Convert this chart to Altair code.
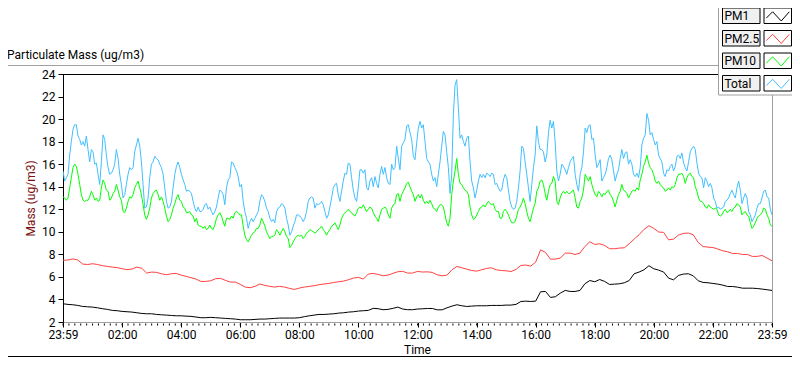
import altair as alt
import numpy as np
import pandas as pd

# ---------------- data ----------------
series_names = ["PM1", "PM2.5", "PM10", "Total"]
series_colors = ["#000000", "#ff4040", "#00ff00", "#40c0ff"]

# PM1 and PM2.5: one reading every 10 minutes, 23:59 -> 23:59
pm1 = [
    3.62, 3.56, 3.53, 3.47, 3.38, 3.35, 3.32, 3.26, 3.18, 3.12,
    3.03, 3.00, 2.94, 2.91, 2.88, 2.82, 2.76, 2.73, 2.73, 2.67,
    2.64, 2.61, 2.58, 2.55, 2.55, 2.52, 2.50, 2.44, 2.38, 2.38,
    2.41, 2.38, 2.35, 2.32, 2.29, 2.26, 2.20, 2.20, 2.20, 2.23,
    2.26, 2.26, 2.29, 2.32, 2.35, 2.35, 2.35, 2.35, 2.38, 2.47,
    2.55, 2.61, 2.67, 2.67, 2.70, 2.73, 2.79, 2.82, 2.88, 2.91,
    2.97, 3.00, 3.03, 3.21, 3.18, 3.09, 3.12, 3.21, 3.32, 3.15,
    3.09, 3.09, 3.15, 3.17, 3.20, 3.20, 3.08, 3.08, 3.26, 3.41,
    3.53, 3.44, 3.38, 3.41, 3.44, 3.44, 3.44, 3.47, 3.47, 3.47,
    3.50, 3.50, 3.56, 3.82, 3.85, 3.82, 3.85, 4.68, 4.71, 4.18,
    4.24, 4.56, 4.80, 4.71, 4.71, 4.80, 5.39, 5.68, 5.57, 5.77,
    5.60, 5.33, 5.36, 5.39, 5.48, 5.68, 6.28, 6.43, 6.63, 6.99,
    6.72, 6.60, 6.43, 5.89, 5.74, 6.13, 6.25, 6.28, 6.10, 5.66,
    5.51, 5.48, 5.42, 5.36, 5.27, 5.15, 5.15, 5.09, 5.00, 5.00,
    5.00, 4.97, 4.92, 4.86, 4.80,
]
pm25 = [
    7.47, 7.50, 7.60, 7.50, 7.14, 7.10, 7.17, 7.10, 7.00, 6.93,
    6.87, 6.82, 6.73, 6.64, 6.70, 6.87, 6.76, 6.34, 6.43, 6.40,
    6.28, 6.19, 6.28, 6.31, 6.16, 6.05, 5.93, 5.81, 5.60, 5.60,
    5.66, 5.84, 5.87, 5.69, 5.54, 5.54, 5.34, 5.10, 5.04, 5.16,
    5.37, 5.25, 5.16, 5.10, 5.16, 5.10, 4.98, 4.89, 5.01, 5.10,
    5.16, 5.22, 5.31, 5.37, 5.42, 5.51, 5.57, 5.63, 5.75, 5.90,
    5.96, 5.81, 6.25, 6.31, 6.22, 6.10, 6.16, 6.31, 6.46, 6.49,
    6.34, 6.34, 6.49, 6.43, 6.45, 6.40, 6.19, 6.10, 6.16, 6.63,
    6.93, 6.81, 6.69, 6.57, 6.51, 6.63, 6.75, 6.81, 6.63, 6.57,
    6.54, 6.48, 6.66, 7.02, 7.05, 6.96, 7.31, 8.40, 8.17, 7.58,
    7.58, 7.67, 8.11, 8.11, 7.99, 8.11, 8.70, 9.12, 8.88, 8.94,
    8.79, 8.50, 8.50, 8.56, 8.58, 8.94, 9.35, 9.74, 10.21, 10.54,
    10.30, 9.98, 9.95, 9.29, 9.35, 9.71, 9.86, 9.89, 9.74, 9.06,
    8.70, 8.64, 8.61, 8.47, 8.32, 8.23, 8.08, 8.08, 7.99, 7.99,
    7.82, 7.82, 7.90, 7.67, 7.43,
]
# PM10 and Total: dense readings, evenly spaced over the 24 hours
pm10 = [
    13.1, 13.0, 12.8, 13.0, 13.9, 14.8, 15.7, 16.0, 15.8, 15.1,
    14.2, 13.3, 12.8, 12.7, 12.8, 12.8, 13.1, 13.6, 13.3, 12.8,
    13.0, 12.7, 12.8, 13.9, 14.6, 14.3, 13.7, 13.6, 12.8, 13.0,
    13.4, 13.6, 14.2, 13.7, 13.1, 12.8, 11.8, 11.7, 12.1, 12.7,
    13.1, 13.0, 13.3, 13.9, 14.2, 14.5, 13.9, 13.3, 12.4, 11.5,
    11.1, 11.5, 12.1, 13.0, 13.4, 13.6, 13.7, 13.3, 12.8, 13.1,
    12.7, 12.1, 11.4, 10.9, 11.1, 11.5, 12.1, 12.5, 13.0, 13.3,
    12.8, 12.7, 12.2, 12.1, 11.7, 11.7, 11.8, 11.5, 11.4, 10.9,
    11.2, 10.6, 10.5, 10.5, 10.3, 10.5, 10.2, 10.3, 10.6, 10.3,
    10.2, 10.6, 11.2, 11.5, 11.7, 11.4, 10.9, 10.5, 11.2, 11.2,
    11.1, 11.4, 11.2, 11.7, 11.8, 11.7, 11.5,
    11.5, 10.5, 9.7, 9.3, 9.1, 9.4, 9.7, 9.9, 10.0, 10.3,
    10.3, 10.6, 11.2, 10.9, 10.5, 10.0, 9.7, 9.4, 9.6, 9.6,
    9.7, 10.2, 10.0, 9.7, 10.0, 10.3, 10.0, 9.6, 9.4, 8.6,
    8.8, 9.1, 9.4, 9.6, 9.7, 9.6, 9.7, 9.4, 9.6, 9.9,
    10.0, 10.2, 10.1, 10.0, 9.9, 10.0, 10.2, 10.3, 10.5, 10.2,
    10.0, 9.7, 10.0, 10.2, 10.5, 10.6, 10.8, 10.5, 10.2, 10.6,
    11.2, 11.5, 11.7, 11.8, 12.0, 11.8, 11.7, 11.5, 11.4, 11.7,
    12.1, 12.2, 12.1, 12.4, 12.1, 11.8, 12.0, 12.2, 12.1, 11.7,
    11.4, 11.2, 10.9, 11.5, 12.0, 12.1, 12.2, 12.0, 11.5, 11.2,
    12.1, 12.4, 12.5, 13.3, 13.4, 12.7, 13.3, 13.6, 13.9, 14.3,
    14.4, 14.0, 13.6, 13.3, 12.7,
    13.1, 13.3, 13.0, 13.3, 12.8, 12.5, 12.7, 12.5, 12.8, 12.5,
    12.1, 12.0, 11.8, 12.2, 12.4, 12.4, 12.2, 11.5, 10.8, 10.5,
    11.2, 13.3, 14.5, 15.4, 16.5, 15.1, 14.3, 14.2, 13.9, 13.7,
    13.6, 13.3, 12.2, 11.5, 11.1, 11.2, 11.5, 11.8, 12.1, 12.2,
    12.4, 12.2, 12.5, 12.7, 12.5, 12.4, 12.5, 12.0, 11.8, 11.8,
    11.2, 11.2, 11.8, 12.0, 11.8, 11.5, 11.1, 10.8, 10.8, 10.9,
    11.4, 12.0, 12.2, 12.5, 13.0, 12.5, 11.8, 11.2, 10.9, 11.5,
    12.1, 12.5, 13.6, 13.9, 14.5, 14.6, 14.2, 13.4, 12.8, 13.6,
    14.2, 14.3, 14.9, 14.5, 12.7, 12.4, 13.0, 13.4, 13.6, 13.4,
    13.6, 13.4, 13.4, 13.6, 13.7, 13.0, 12.2, 12.1, 12.7, 13.0,
    13.7, 15.1, 14.8, 14.5, 14.9,
    14.2, 13.7, 13.3, 13.1, 13.6, 13.4, 13.1, 13.4, 13.3, 13.6,
    13.7, 13.3, 13.1, 12.7, 12.2, 12.8, 13.3, 13.6, 14.2, 13.7,
    13.6, 13.4, 13.0, 13.3, 13.6, 13.7, 13.6, 13.9, 13.7, 14.6,
    15.1, 15.8, 16.2, 16.8, 16.1, 15.7, 15.5, 15.1, 14.5, 14.3,
    14.5, 14.2, 14.0, 13.9, 13.6, 13.7, 13.9, 13.7, 14.0, 13.9,
    14.2, 14.8, 15.1, 15.1, 15.2, 14.9, 14.3, 14.8, 15.1, 15.2,
    14.9, 14.8, 14.0, 13.6, 13.0, 12.7, 12.7, 12.5, 12.2, 12.1,
    12.4, 12.2, 12.1, 12.0, 12.1, 12.0, 11.5, 11.4, 11.5, 11.8,
    12.0, 11.7, 11.8, 12.0, 11.8, 12.1, 12.2, 12.5, 12.4, 12.2,
    11.5, 11.7, 11.8, 11.5, 11.4, 10.8, 10.3, 10.5, 10.8, 11.2,
    11.4, 11.5, 11.7, 12.1, 12.0, 11.5, 11.2, 10.6, 10.5,
]
total = [
    15.4, 14.5, 14.8, 15.1, 16.8, 18.0, 19.1, 19.5, 19.5, 18.5,
    18.2, 17.7, 18.0, 17.6, 18.5, 17.3, 16.2, 17.3, 17.1, 16.0,
    16.1, 15.1, 14.2, 16.2, 18.6, 18.2, 16.8, 15.7, 15.1, 15.2,
    15.5, 16.0, 17.3, 16.5, 15.1, 14.2, 13.0, 13.3, 14.2, 15.1,
    15.7, 15.5, 15.7, 17.1, 17.7, 18.3, 17.6, 16.2, 14.2, 12.1,
    12.2, 13.0, 14.8, 16.0, 16.2, 16.7, 16.5, 16.4, 16.0, 15.7,
    15.1, 13.9, 12.7, 12.1, 12.2, 12.7, 13.9, 15.1, 15.8, 16.2,
    15.7, 15.1, 14.6, 14.2, 13.6, 13.7, 13.6, 13.4, 12.7, 12.1,
    11.8, 12.2, 11.8, 11.8, 12.0, 12.4, 12.5, 12.0, 12.2, 11.8,
    11.5, 11.8, 12.2, 13.0, 13.7, 13.6, 13.3, 12.4, 13.9, 14.6,
    14.8, 16.2, 16.1, 15.7, 15.4, 14.9, 14.0,
    14.2, 12.7, 11.8, 11.2, 10.3, 10.9, 11.2, 10.9, 11.2, 11.5,
    11.8, 12.7, 13.3, 13.1, 12.7, 12.1, 11.8, 11.2, 10.9, 11.1,
    10.8, 11.8, 12.1, 12.2, 12.5, 12.4, 12.1, 11.2, 10.6, 9.7,
    10.0, 10.5, 10.9, 11.5, 11.5, 11.4, 11.2, 10.9, 11.2, 11.8,
    12.7, 13.0, 13.1, 13.0, 12.1, 12.5, 12.4, 12.5, 12.7, 12.4,
    11.8, 11.2, 11.5, 12.2, 13.0, 13.9, 14.2, 14.3, 13.3, 12.7,
    13.6, 14.5, 15.2, 15.1, 16.1, 16.0, 14.8, 13.7, 13.0, 12.7,
    13.9, 15.5, 15.5, 15.2, 15.5, 13.9, 13.7, 14.5, 14.8, 14.0,
    14.9, 14.3, 13.9, 15.1, 15.8, 15.1, 15.7, 14.8, 14.3, 14.2,
    16.0, 15.5, 15.7, 17.6, 16.5, 15.5, 17.6, 17.9, 18.2, 19.4,
    19.5, 18.8, 18.2, 16.7, 16.4,
    17.9, 19.2, 19.8, 19.2, 19.5, 18.0, 16.5, 16.2, 16.0, 15.1,
    14.5, 14.8, 14.0, 15.1, 16.2, 17.6, 18.9, 18.6, 17.1, 15.7,
    13.4, 15.1, 20.4, 23.0, 23.5, 21.0, 18.3, 18.6, 18.0, 17.6,
    18.3, 18.5, 16.2, 14.5, 13.9, 13.0, 13.7, 14.5, 15.1, 14.8,
    15.1, 14.8, 15.2, 15.1, 14.9, 15.2, 15.1, 14.2, 14.3, 13.9,
    13.6, 13.7, 14.6, 15.1, 14.8, 13.7, 12.7, 12.2, 12.0, 12.1,
    12.7, 13.9, 15.4, 17.6, 17.4, 16.2, 15.1, 13.9, 12.7, 14.2,
    15.7, 16.8, 19.4, 18.0, 17.3, 17.3, 17.1, 16.2, 16.8, 18.8,
    19.9, 19.2, 19.8, 18.0, 15.4, 14.5, 15.1, 16.0, 15.8, 15.5,
    15.1, 15.7, 16.2, 16.5, 16.7, 15.1, 14.2, 13.6, 15.1, 15.7,
    17.1, 19.2, 18.8, 19.4, 19.5,
    18.2, 18.3, 16.8, 15.7, 16.0, 16.4, 14.5, 14.8, 15.1, 15.7,
    16.5, 16.8, 16.4, 15.4, 14.5, 15.1, 15.5, 16.5, 17.3, 16.5,
    17.0, 17.1, 16.0, 16.4, 16.0, 15.1, 14.9, 15.2, 14.8, 15.7,
    17.7, 18.3, 18.6, 20.5, 19.9, 18.6, 18.8, 18.2, 17.7, 18.0,
    16.8, 16.5, 16.2, 15.2, 14.9, 15.5, 15.4, 15.8, 16.0, 15.4,
    15.8, 16.7, 16.8, 16.5, 17.0, 16.1, 15.7, 15.4, 16.2, 17.1,
    17.4, 17.6, 17.3, 16.1, 15.2, 14.9, 14.8, 13.9, 14.8, 14.5,
    14.0, 14.3, 13.9, 13.0, 12.7, 12.1, 12.2, 12.0, 12.1, 12.2,
    12.7, 12.8, 13.0, 13.4, 13.7, 13.3, 13.0, 13.9, 14.5, 13.7,
    12.5, 13.0, 13.4, 13.0, 11.8, 11.5, 10.9, 11.2, 11.5, 12.1,
    12.5, 12.5, 13.0, 13.6, 13.7, 13.1, 13.0, 12.0, 11.5,
]

x_major_hours = list(range(0, 25, 2))
x_minor_hours = [round(i * 0.2, 2) for i in range(121)]
y_ticks = list(range(2, 25, 2))
chart_title = "Particulate Mass (ug/m3)"
x_title = "Time"
y_title = "Mass (ug/m3)"

# ---------------- build table ----------------
rows = []
for name, vals in zip(series_names, [pm1, pm25, pm10, total]):
    hours = np.linspace(0, 24, len(vals))
    for h, v in zip(hours, vals):
        rows.append({"series": name, "hour": float(h), "value": float(v)})
df = pd.DataFrame(rows)

W, H = 709, 248
FONT = "Roboto"
FS = 12

x_scale = alt.Scale(domain=[0, 24], nice=False, zero=False)
y_scale = alt.Scale(domain=[2, 24], nice=False, zero=False)
color_scale = alt.Scale(domain=series_names, range=series_colors)

label_expr = ("(datum.value == 0 || datum.value == 24) ? '23:59' : "
              "((datum.value < 10 ? '0' : '') + datum.value + ':00')")

lines = alt.Chart(df).mark_line(strokeWidth=1, clip=True).encode(
    x=alt.X("hour:Q", scale=x_scale,
            axis=alt.Axis(values=x_major_hours, labelExpr=label_expr, title=None,
                          tickSize=5, tickColor="#000000", domainColor="#a0a0a0",
                          labelFont=FONT, labelFontSize=FS, labelColor="#000000",
                          labelPadding=2.5, labelFlush=False, labelOverlap=False,
                          grid=False)),
    y=alt.Y("value:Q", scale=y_scale,
            axis=alt.Axis(values=y_ticks, title=y_title, tickSize=5,
                          tickColor="#000000", domainColor="#000000",
                          labelFont=FONT, labelFontSize=FS, labelColor="#000000",
                          labelPadding=3, labelFlush=False,
                          titleFont=FONT, titleFontSize=12, titleFontWeight="normal",
                          titleColor="#7a1010", titlePadding=4, grid=False)),
    color=alt.Color("series:N", scale=color_scale, legend=None),
)

# minor ticks on the time axis, placed through the x scale
minor = alt.Chart(pd.DataFrame({"hour": x_minor_hours})).mark_rule(
    color="#000000", strokeWidth=1).encode(
    x=alt.X("hour:Q", scale=x_scale),
    y=alt.value(H + 1.5), y2=alt.value(H + 3.5))

one = pd.DataFrame({"k": [0]})

def rule(x1, x2, y1, y2, color):
    return alt.Chart(one).mark_rule(color=color, strokeWidth=1).encode(
        x=alt.value(x1), x2=alt.value(x2), y=alt.value(y1), y2=alt.value(y2))

LX = 655.5  # left edge of the legend panel
frame = [
    rule(0, LX, 0.5, 0.5, "#000000"),             # plot top edge
    rule(709.5, 709.5, 21, H, "#a0a0a0"),        # plot right edge
    rule(-60, LX, -8.5, -8.5, "#a0a0a0"),        # panel top edge
    rule(-60, 740, 282.5, 282.5, "#000000"),     # panel bottom edge
    rule(LX, LX, -70, 21, "#a0a0a0"),            # legend panel left
    rule(LX, 740, 21, 21, "#a0a0a0"),            # legend panel bottom
]

title_txt = alt.Chart(pd.DataFrame({"t": [chart_title]})).mark_text(
    align="left", baseline="alphabetic", font=FONT, fontSize=12, color="#000000").encode(
    x=alt.value(-56), y=alt.value(-15.5), text="t:N")

x_title_txt = alt.Chart(pd.DataFrame({"t": [x_title]})).mark_text(
    align="center", baseline="alphabetic", font=FONT, fontSize=12, color="#000000").encode(
    x=alt.value(W / 2), y=alt.value(280), text="t:N")

legend_layers = []
row_tops = [-66.0, -43.5, -21.0, 1.5]
for name, color, top in zip(series_names, series_colors, row_tops):
    d = pd.DataFrame({"name": [name]})
    base = alt.Chart(d)
    legend_layers.append(base.mark_rect(fill="#f0f0f0", stroke="#000000", strokeWidth=1).encode(
        x=alt.value(659.5), x2=alt.value(697), y=alt.value(top), y2=alt.value(top + 15.5)))
    legend_layers.append(base.mark_rect(fill="#ffffff", stroke="#000000", strokeWidth=1).encode(
        x=alt.value(701), x2=alt.value(728.5), y=alt.value(top), y2=alt.value(top + 15.5)))
    legend_layers.append(base.mark_text(align="left", baseline="middle", font=FONT,
                                        fontSize=12, color="#000000").encode(
        x=alt.value(661.5), y=alt.value(top + 8), text="name:N"))
    legend_layers.append(base.mark_point(
        shape="M-1,0.2L-0.45,-0.35L0.3,0.45L1,-0.35", size=529, filled=False,
        strokeWidth=1, opacity=1).encode(
        x=alt.value(714.8), y=alt.value(top + 7.8),
        color=alt.Color("name:N", scale=color_scale, legend=None)))

chart = alt.layer(lines, minor, *frame, title_txt, x_title_txt, *legend_layers).properties(
    width=W, height=H,
    autosize=alt.AutoSizeParams(type="none"),
    padding={"left": 55, "top": 66, "right": 20, "bottom": 35},
    background="#ffffff",
).configure_view(stroke=None)

chart.save("out.html", embed_options={"renderer": "svg", "actions": False})
